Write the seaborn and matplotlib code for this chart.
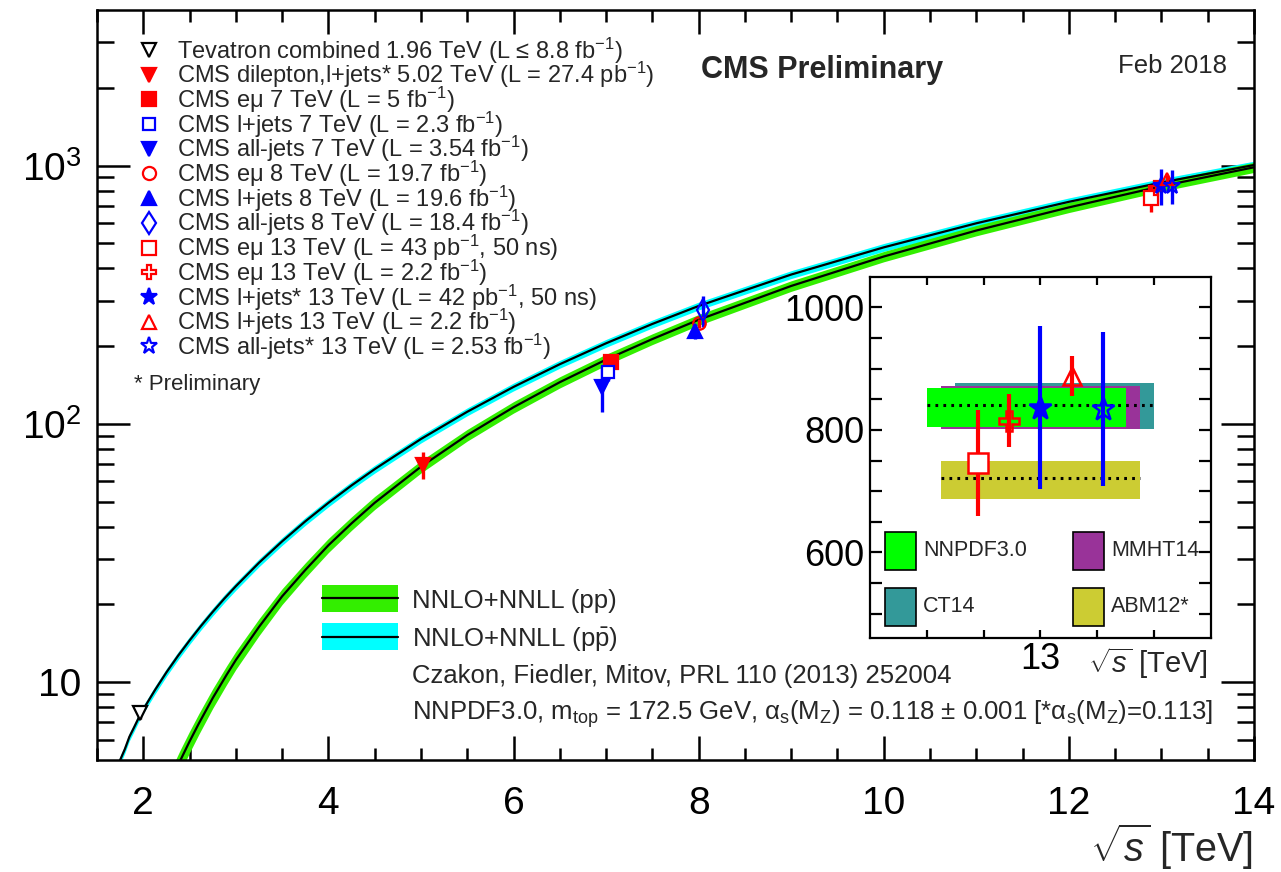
import matplotlib
matplotlib.use("Agg")
import matplotlib.pyplot as plt
from matplotlib.lines import Line2D
from matplotlib.patches import Rectangle
from matplotlib.ticker import FixedLocator, FixedFormatter, NullFormatter
import numpy as np
import pandas as pd
import seaborn as sns

sns.set_theme(style="ticks")
plt.rcParams["font.family"] = ["Liberation Sans", "DejaVu Sans"]
plt.rcParams["mathtext.fontset"] = "custom"
plt.rcParams["mathtext.rm"] = "Liberation Sans"
plt.rcParams["mathtext.it"] = "Liberation Sans:italic"
plt.rcParams["mathtext.bf"] = "Liberation Sans:bold"
plt.rcParams["mathtext.sf"] = "Liberation Sans"
plt.rcParams["axes.linewidth"] = 1.8

# ---------------- theory: NNLO+NNLL ttbar cross section [pb] ----------------
pp_sqrts = [2.30, 2.40, 2.50, 2.60, 2.75, 2.90, 3.0, 3.25, 3.5, 3.75, 4.0,
            4.25, 4.5, 5.0, 5.5, 6.0, 6.5, 7.0, 7.5, 8.0, 9.0, 10.0, 11.0,
            12.0, 13.0, 14.0]
pp_xsec = [4.16, 4.98, 5.90, 6.92, 8.68, 10.68, 12.19, 16.37, 21.5, 27.18,
           33.9, 41.21, 49.5, 68.3, 90.5, 116.0, 145.0, 177.3, 213.0, 252.9,
           341.9, 444.5, 560.3, 688.6, 831.8, 984.5]
pp_relunc = [0.105, 0.100, 0.095, 0.092, 0.087, 0.083, 0.080, 0.075, 0.070,
             0.066, 0.063, 0.060, 0.058, 0.055, 0.052, 0.051, 0.050, 0.049,
             0.048, 0.048, 0.047, 0.046, 0.046, 0.045, 0.045, 0.045]

ppbar_sqrts = [1.70, 1.75, 1.80, 1.85, 1.90, 1.96, 2.0, 2.125, 2.25, 2.375,
               2.5, 2.625, 2.75, 2.875, 3.0, 3.25, 3.5, 3.75, 4.0, 4.25, 4.5,
               5.0, 5.5, 6.0, 6.5, 7.0, 7.5, 8.0, 9.0, 10.0, 11.0, 12.0, 13.0,
               14.0]
ppbar_xsec = [4.5, 5.0, 5.50, 6.15, 6.68, 7.4, 7.85, 9.31, 10.92, 12.65,
              14.51, 16.54, 18.72, 21.06, 23.53, 29.0, 35.1, 41.94, 49.47,
              57.78, 66.8, 87.4, 111.4, 139.0, 170.2, 205.1, 243.7, 286.0,
              378.5, 482.3, 597.7, 723.8, 859.7, 1004.5]
ppbar_relunc = [0.035] * len(ppbar_sqrts)

# ---------------- measurements ----------------
meas_label = [
    "Tevatron combined 1.96 TeV (L \u2264 8.8 fb$^{-1}$)",
    "CMS dilepton,l+jets* 5.02 TeV (L = 27.4 pb$^{-1}$)",
    "CMS e\u03bc 7 TeV (L = 5 fb$^{-1}$)",
    "CMS l+jets 7 TeV (L = 2.3 fb$^{-1}$)",
    "CMS all-jets 7 TeV (L = 3.54 fb$^{-1}$)",
    "CMS e\u03bc 8 TeV (L = 19.7 fb$^{-1}$)",
    "CMS l+jets 8 TeV (L = 19.6 fb$^{-1}$)",
    "CMS all-jets 8 TeV (L = 18.4 fb$^{-1}$)",
    "CMS e\u03bc 13 TeV (L = 43 pb$^{-1}$, 50 ns)",
    "CMS e\u03bc 13 TeV (L = 2.2 fb$^{-1}$)",
    "CMS l+jets* 13 TeV (L = 42 pb$^{-1}$, 50 ns)",
    "CMS l+jets 13 TeV (L = 2.2 fb$^{-1}$)",
    "CMS all-jets* 13 TeV (L = 2.53 fb$^{-1}$)",
]
meas_sqrts = [1.96, 5.02, 7.05, 7.02, 6.96, 8.00, 7.96, 8.05,
              12.89, 12.945, 13.0, 13.055, 13.11]
meas_xsec = [7.60, 69.5, 173.6, 158.1, 139.0, 244.9, 228.5, 275.6,
             746.0, 815.0, 836.0, 888.0, 834.0]
meas_err = [0.41, 8.4, 6.5, 11.0, 28.0, 9.0, 15.4, 38.0,
            86.0, 43.0, 133.0, 32.0, 125.0]

# marker styles for each measurement
meas_marker = ["v", "v", "s", "s", "v", "o", "^", "d", "s", "P", "*", "^", "*"]
meas_color = ["black", "red", "red", "blue", "blue", "red", "blue", "blue",
              "red", "red", "blue", "red", "blue"]
meas_filled = [False, True, True, False, True, False, True, False,
               False, False, True, False, False]
meas_ms = [10, 10, 9.5, 8, 10, 9, 10, 11, 10, 10, 12, 9, 12]

# ---------------- PDF sets at 13 TeV (inset) ----------------
pdf_names = ["CT14", "MMHT14", "NNPDF3.0", "ABM12*"]
pdf_lo = [801.0, 801.0, 805.0, 688.0]
pdf_hi = [876.0, 871.0, 868.0, 750.0]
pdf_central = [841.0, 840.0, 840.0, 721.0]
pdf_xmin = [12.85, 12.825, 12.80, 12.825]
pdf_xmax = [13.20, 13.175, 13.15, 13.175]
pdf_color = ["#339999", "#993399", "#00ff00", "#cccc33"]

GREEN = "#33ee00"
CYAN = "#00ffff"

W, H = 1281, 872
fig = plt.figure(figsize=(W / 100, H / 100), dpi=100)


def fx(px):
    return px / W


def fy(py):
    return 1 - py / H


def face_of(i, white_for=("s", "v")):
    c = meas_color[i]
    if meas_filled[i]:
        return c
    return "white" if meas_marker[i] in white_for else "none"


# ---------------- main panel ----------------
ax = fig.add_axes([fx(97), fy(760), (1254 - 97) / W, (760 - 10) / H])
ax.set_yscale("log")

ppbar = np.array(ppbar_xsec)
ppbar_u = np.array(ppbar_relunc)
pp = np.array(pp_xsec)
pp_u = np.array(pp_relunc)
ax.fill_between(ppbar_sqrts, ppbar * (1 - ppbar_u), ppbar * (1 + ppbar_u),
                color=CYAN, lw=0, zorder=1)
ax.fill_between(pp_sqrts, pp * (1 - pp_u), pp * (1 + pp_u),
                color=GREEN, lw=0, zorder=2)

curves = pd.concat([
    pd.DataFrame({"sqrts": ppbar_sqrts, "xsec": ppbar_xsec, "beam": "ppbar"}),
    pd.DataFrame({"sqrts": pp_sqrts, "xsec": pp_xsec, "beam": "pp"}),
])
sns.lineplot(data=curves, x="sqrts", y="xsec", units="beam", estimator=None,
             sort=False, color="black", lw=1.6, ax=ax, zorder=3)

for i in range(len(meas_sqrts)):
    c = meas_color[i]
    ax.errorbar(meas_sqrts[i], meas_xsec[i], yerr=meas_err[i], fmt="none",
                ecolor=c, elinewidth=2.4, capsize=0, zorder=5)
    ax.plot(meas_sqrts[i], meas_xsec[i], marker=meas_marker[i], ms=meas_ms[i],
            mfc=face_of(i), mec=c, mew=1.6, ls="none", zorder=6)

ax.set_xlim(1.5, 14)
ax.set_ylim(5, 4000)
ax.set_xlabel("")
ax.set_ylabel("")

ax.xaxis.set_major_locator(FixedLocator([2, 4, 6, 8, 10, 12, 14]))
ax.xaxis.set_major_formatter(FixedFormatter(["2", "4", "6", "8", "10", "12", "14"]))
ax.xaxis.set_minor_locator(FixedLocator(np.arange(1.5, 14.01, 0.5)))
ax.xaxis.set_minor_formatter(NullFormatter())
ax.yaxis.set_major_locator(FixedLocator([10, 100, 1000]))
ax.yaxis.set_major_formatter(FixedFormatter(["10", "$10^{2}$", "$10^{3}$"]))
yminor = [6, 7, 8, 9] + list(range(20, 100, 10)) + list(range(200, 1000, 100)) + [2000, 3000]
ax.yaxis.set_minor_locator(FixedLocator(yminor))
ax.yaxis.set_minor_formatter(NullFormatter())

ax.tick_params(which="both", direction="in", top=True, right=True, width=1.8,
               colors="black")
ax.tick_params(axis="x", which="major", length=17, labelsize=28, pad=19)
ax.tick_params(axis="x", which="minor", length=8.5)
ax.tick_params(axis="y", which="major", length=24, labelsize=28, pad=11)
ax.tick_params(axis="y", which="minor", length=12)
for s in ax.spines.values():
    s.set_linewidth(1.8)
    s.set_color("black")

fig.text(fx(1253), fy(847), r"$\sqrt{s}$ [TeV]", fontsize=28.5,
         ha="right", va="center")

# ---------------- header ----------------
fig.text(fx(822), fy(78), "CMS Preliminary", fontsize=22, fontweight="bold",
         ha="center", va="baseline")
fig.text(fx(1173), fy(73), "Feb 2018", fontsize=18.5, ha="center", va="baseline")

# ---------------- measurement legend ----------------
leg_size = 17
em = leg_size * 100 / 72
for i, lab in enumerate(meas_label):
    yc = 50 + 24.7 * i
    c = meas_color[i]
    fig.add_artist(Line2D([fx(149)], [fy(yc)], transform=fig.transFigure,
                          marker=meas_marker[i], ms=meas_ms[i] * 1.05,
                          mfc=face_of(i), mec=c, mew=1.6, ls="none"))
    fig.text(fx(177), fy(yc + 0.36 * em), lab, fontsize=leg_size, va="baseline")
fig.text(fx(134), fy(382 + 0.36 * 16 * 100 / 72), "* Preliminary", fontsize=16,
         va="baseline")

# ---------------- theory legend ----------------
for (y0, y1, col, lab) in [(585, 611.7, GREEN, "NNLO+NNLL (pp)"),
                           (623.3, 650, CYAN, r"NNLO+NNLL (p$\mathrm{\bar{p}}$)")]:
    fig.add_artist(Rectangle((fx(322), fy(y1)), 76 / W, (y1 - y0) / H,
                             transform=fig.transFigure, facecolor=col,
                             edgecolor="none"))
    ym = 0.5 * (y0 + y1)
    fig.add_artist(Line2D([fx(322), fx(398)], [fy(ym), fy(ym)],
                          transform=fig.transFigure, color="black", lw=1.6))
    fig.text(fx(412), fy(ym + 9.2), lab, fontsize=18.5, va="baseline")

fig.text(fx(412), fy(673.8 + 9.2), "Czakon, Fiedler, Mitov, PRL 110 (2013) 252004",
         fontsize=18.5, va="baseline")
fig.text(fx(412), fy(710.7 + 9.2),
         "NNPDF3.0, m$_{\\rm top}$ = 172.5 GeV, \u03b1$_{\\rm s}$(M$_{\\rm Z}$) = 0.118 \u00b1 0.001 "
         "[*\u03b1$_{\\rm s}$(M$_{\\rm Z}$)=0.113]",
         fontsize=18.5, va="baseline")

# ---------------- inset: 13 TeV zoom ----------------
axi = fig.add_axes([fx(870), fy(638.3), 340.7 / W, 361.6 / H])
axi.set_facecolor("white")
axi.set_zorder(10)
for k in range(len(pdf_names) - 1):
    axi.fill_between([pdf_xmin[k], pdf_xmax[k]], [pdf_lo[k]] * 2, [pdf_hi[k]] * 2,
                     color=pdf_color[k], lw=0, zorder=1 + k)
axi.fill_between([pdf_xmin[3], pdf_xmax[3]], [pdf_lo[3]] * 2, [pdf_hi[3]] * 2,
                 color=pdf_color[3], lw=0, zorder=1)
axi.plot([pdf_xmin[2], pdf_xmax[0]], [pdf_central[2]] * 2, color="black",
         lw=2.2, ls=(0, (0.9, 1.7)), zorder=5)
axi.plot([pdf_xmin[3], pdf_xmax[3]], [pdf_central[3]] * 2, color="black",
         lw=2.2, ls=(0, (0.9, 1.7)), zorder=5)

for i in range(8, len(meas_sqrts)):
    c = meas_color[i]
    axi.errorbar(meas_sqrts[i], meas_xsec[i], yerr=meas_err[i], fmt="none",
                 ecolor=c, elinewidth=3.0, capsize=0, zorder=6)
    axi.plot(meas_sqrts[i], meas_xsec[i], marker=meas_marker[i],
             ms=meas_ms[i] * 1.45, mfc=face_of(i, ("s",)), mec=c, mew=1.8,
             ls="none", zorder=7)

axi.set_xlim(12.7, 13.3)
axi.set_ylim(460, 1050)
axi.xaxis.set_major_locator(FixedLocator([12.8, 12.9, 13.0, 13.1, 13.2]))
axi.xaxis.set_major_formatter(FixedFormatter(["", "", "13", "", ""]))
axi.yaxis.set_major_locator(FixedLocator([600, 800, 1000]))
axi.yaxis.set_major_formatter(FixedFormatter(["600", "800", "1000"]))
axi.yaxis.set_minor_locator(FixedLocator(np.arange(500, 1050, 50)))
axi.yaxis.set_minor_formatter(NullFormatter())
axi.tick_params(which="both", direction="in", top=True, right=True, width=1.6,
                colors="black")
axi.tick_params(axis="x", which="major", length=6, labelsize=26, pad=3)
axi.tick_params(axis="y", which="both", length=8.6, labelsize=26, pad=4)
for s in axi.spines.values():
    s.set_linewidth(1.6)
    s.set_color("black")
axi.set_xlabel("")
axi.set_ylabel("")

# inset legend
inset_legend = [("NNPDF3.0", 0.044, 0.189), ("MMHT14", 0.596, 0.189),
                ("CT14", 0.044, 0.034), ("ABM12*", 0.596, 0.034)]
for name, lx, ly in inset_legend:
    k = pdf_names.index(name)
    axi.add_patch(Rectangle((lx, ly), 0.092, 0.106, transform=axi.transAxes,
                            facecolor=pdf_color[k], edgecolor="black", lw=1.2,
                            zorder=8))
    axi.text(lx + 0.112, ly + 0.053, name, transform=axi.transAxes,
             fontsize=15.5, va="center", ha="left", zorder=8)

fig.text(fx(1208), fy(663), r"$\sqrt{s}$ [TeV]", fontsize=21, ha="right",
         va="center")

fig.savefig("out.png", dpi=100)
